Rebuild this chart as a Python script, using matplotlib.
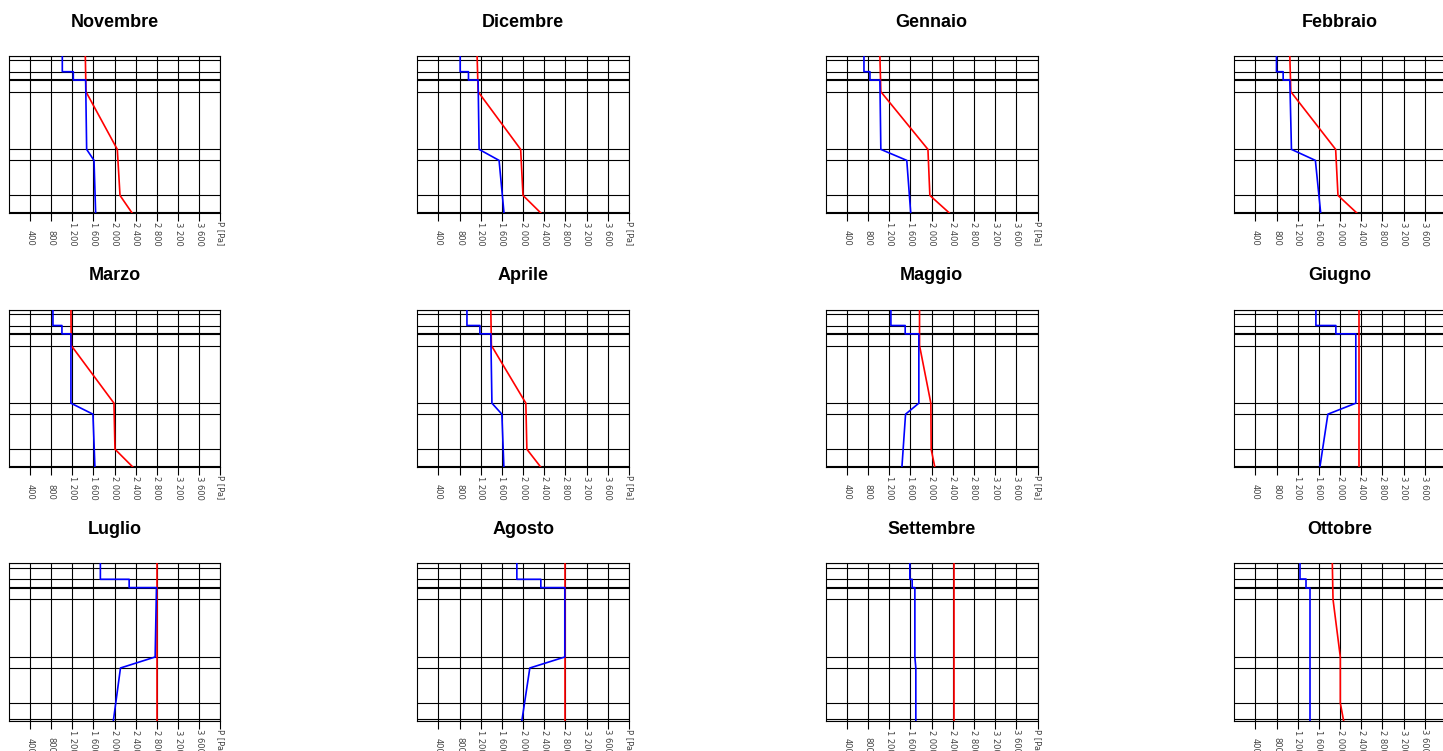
import numpy as np
import matplotlib
matplotlib.use("Agg")
import matplotlib.pyplot as plt
import matplotlib.transforms as mtransforms

# mesi (da novembre a ottobre)
mesi = ["Novembre", "Dicembre", "Gennaio", "Febbraio",
        "Marzo", "Aprile", "Maggio", "Giugno",
        "Luglio", "Agosto", "Settembre", "Ottobre"]

# interfacce degli strati (profondita, unita arbitrarie)
profondita_strati = [0, 1.3, 4.8, 7.1, 7.3, 10.8, 28.1, 31.4, 41.9, 46.8, 47.3]

# profondita dei punti delle due curve
z_pv = [0, 4.8, 4.8, 7.3, 7.3, 28.1, 31.4, 47.3]
z_ps = [0, 10.8, 28.1, 41.9, 47.3]

# pressione parziale del vapore [Pa]
pv_nov = [1011, 1011, 1219, 1219, 1452, 1471, 1610, 1641]
pv_dic = [810, 810, 967, 967, 1149, 1168, 1545, 1639]
pv_gen = [721, 721, 834, 834, 1022, 1040, 1530, 1605]
pv_feb = [797, 797, 923, 923, 1049, 1080, 1532, 1633]
pv_mar = [834, 834, 1004, 1004, 1174, 1174, 1590, 1627]
pv_apr = [938, 938, 1183, 1183, 1389, 1410, 1598, 1636]
pv_mag = [1230, 1230, 1500, 1500, 1758, 1758, 1507, 1438]
pv_giu = [1542, 1542, 1919, 1919, 2296, 2296, 1768, 1617]
pv_lug = [1730, 1730, 2274, 2274, 2790, 2765, 2110, 1975]
pv_ago = [1881, 1881, 2334, 2334, 2787, 2787, 2126, 1975]
pv_set = [1588, 1588, 1632, 1632, 1683, 1683, 1701, 1701]
pv_ott = [1250, 1250, 1357, 1357, 1438, 1438, 1438, 1438]

# pressione di saturazione [Pa]
ps_nov = [1446, 1458, 2050, 2101, 2334]
ps_dic = [1130, 1149, 1953, 1997, 2342]
ps_gen = [1022, 1040, 1930, 1966, 2343]
ps_feb = [1049, 1068, 1915, 1959, 2323]
ps_mar = [1174, 1180, 1987, 2006, 2346]
ps_apr = [1389, 1400, 2051, 2070, 2334]
ps_mag = [1771, 1771, 1985, 1991, 2060]
ps_giu = [2353, 2353, 2353, 2353, 2353]
ps_lug = [2795, 2795, 2795, 2795, 2795]
ps_ago = [2800, 2800, 2800, 2800, 2800]
ps_set = [2413, 2413, 2413, 2413, 2413]
ps_ott = [1852, 1865, 2003, 2003, 2066]

pv = [pv_nov, pv_dic, pv_gen, pv_feb, pv_mar, pv_apr,
      pv_mag, pv_giu, pv_lug, pv_ago, pv_set, pv_ott]
ps = [ps_nov, ps_dic, ps_gen, ps_feb, ps_mar, ps_apr,
      ps_mag, ps_giu, ps_lug, ps_ago, ps_set, ps_ott]

tick_pressione = [400, 800, 1200, 1600, 2000, 2400, 2800, 3200, 3600, 4000]
etichette_tick = ["400", "800", "1 200", "1 600", "2 000", "2 400",
                  "2 800", "3 200", "3 600", "P [Pa]"]

W, H = 1443, 751
fig = plt.figure(figsize=(W / 100, H / 100), dpi=100)

for i, mese in enumerate(mesi):
    r, c = divmod(i, 4)
    left = 8.8 + 408.5 * c
    top = 55.7 + 253.8 * r
    ax = fig.add_axes([left / W, 1 - (top + 157.7) / H, 211.7 / W, 157.7 / H])

    for z in profondita_strati:
        ax.axhline(z, color="black", lw=0.8, zorder=1)
    for p in tick_pressione:
        ax.axvline(p, color="black", lw=0.8, zorder=1)

    ax.plot(ps[i], z_ps, color="red", lw=1.2, zorder=3)
    ax.plot(pv[i], z_pv, color="blue", lw=1.2, zorder=4)

    ax.set_xlim(0, 4000)
    ax.set_ylim(profondita_strati[-1], 0)
    ax.set_yticks([])
    ax.set_xticks(tick_pressione)
    ax.set_xticklabels([])
    ax.tick_params(axis="x", length=6, width=0.8, color="black")
    for s in ax.spines.values():
        s.set_linewidth(0.8)

    # etichette ruotate, allineate in basso come nell'originale
    trans = mtransforms.blended_transform_factory(ax.transData, ax.transAxes)
    for p, lab in zip(tick_pressione, etichette_tick):
        ax.text(p, -0.205, lab, transform=trans, rotation=-90,
                ha="center", va="bottom", fontsize=6, color="#444444")

    ax.set_title(mese, fontsize=13, fontweight="bold", pad=21,
                 family=["Liberation Sans", "DejaVu Sans"])

fig.savefig("out.png", dpi=100)
